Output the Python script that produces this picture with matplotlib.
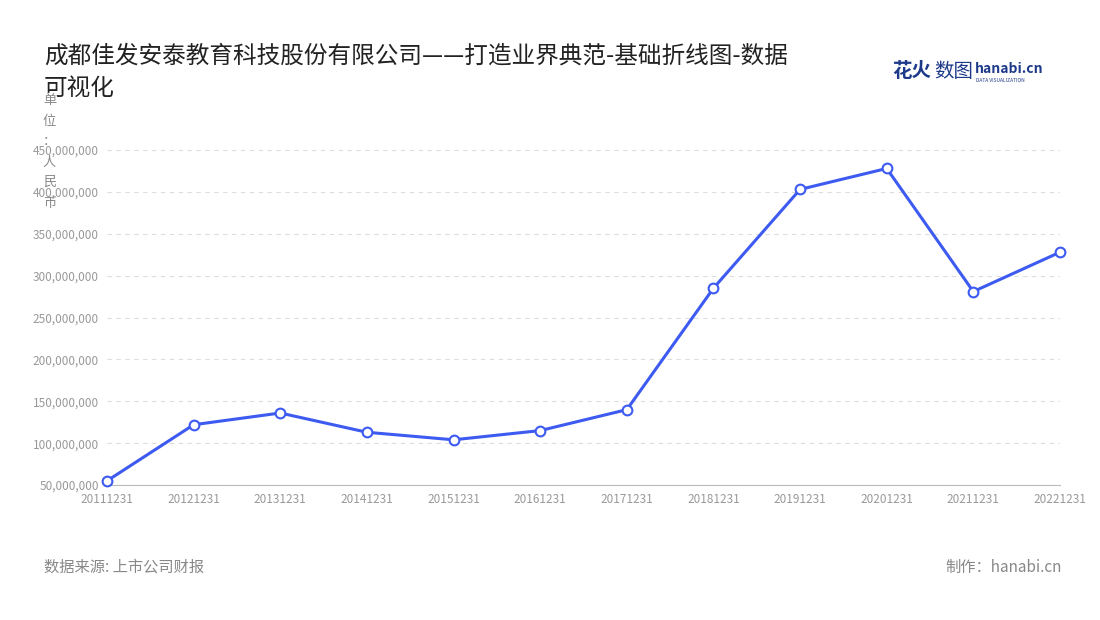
import matplotlib
matplotlib.use('Agg')
import matplotlib.pyplot as plt

plt.rcParams['font.family'] = ['Noto Sans CJK SC', 'DejaVu Sans']

dates = ['20111231', '20121231', '20131231', '20141231', '20151231', '20161231',
         '20171231', '20181231', '20191231', '20201231', '20211231', '20221231']
revenue = [55e6, 122e6, 136e6, 113e6, 104e6, 115e6,
           140e6, 285e6, 403e6, 428e6, 281e6, 328e6]

fig = plt.figure(figsize=(11, 6.2), dpi=100)
ax = fig.add_axes([0.0973, 0.2177, 0.8663, 0.5403])

x = range(len(dates))
ax.plot(x, revenue, color='#3d5af1', lw=2.2, marker='o', ms=7,
        mfc='white', mec='#3d5af1', mew=1.5, zorder=3, clip_on=False)

ax.set_xlim(0, len(dates) - 1)
ax.set_ylim(50e6, 450e6)
ax.set_yticks([i * 50e6 for i in range(1, 10)])
ax.set_yticklabels(['{:,}'.format(int(v)) for v in ax.get_yticks()])
ax.set_xticks(list(x))
ax.set_xticklabels(dates)
ax.tick_params(colors='#999999', labelsize=8.5, length=0, pad=6)
ax.grid(axis='y', ls=(0, (4, 4)), color='#dddddd', lw=0.8)
for s in ['top', 'right', 'left']:
    ax.spines[s].set_visible(False)
ax.spines['bottom'].set_color('#bbbbbb')

fig.text(0.04, 0.91, '成都佳发安泰教育科技股份有限公司——打造业界典范-基础折线图-数据',
         fontsize=17, color='#222222', va='center')
fig.text(0.04, 0.858, '可视化', fontsize=17, color='#222222', va='center')
fig.text(0.045, 0.755, '单\n位\n：\n人\n民\n币', fontsize=9.5, color='#888888',
         va='center', ha='center', linespacing=1.75)

fig.text(0.811, 0.885, '花火', fontsize=14, color='#1d3a8a', weight='bold', va='center')
fig.text(0.849, 0.885, '数图', fontsize=14, color='#1d3a8a', va='center')
fig.text(0.886, 0.888, 'hanabi.cn', fontsize=10, color='#1d3a8a', weight='bold', va='center')
fig.text(0.887, 0.870, 'DATA VISUALIZATION', fontsize=3.5, color='#1d3a8a', va='center')

fig.text(0.04, 0.085, '数据来源: 上市公司财报', fontsize=11, color='#888888', va='center')
fig.text(0.965, 0.085, '制作：hanabi.cn', fontsize=11, color='#888888', va='center', ha='right')

fig.savefig('out.png', dpi=100)
